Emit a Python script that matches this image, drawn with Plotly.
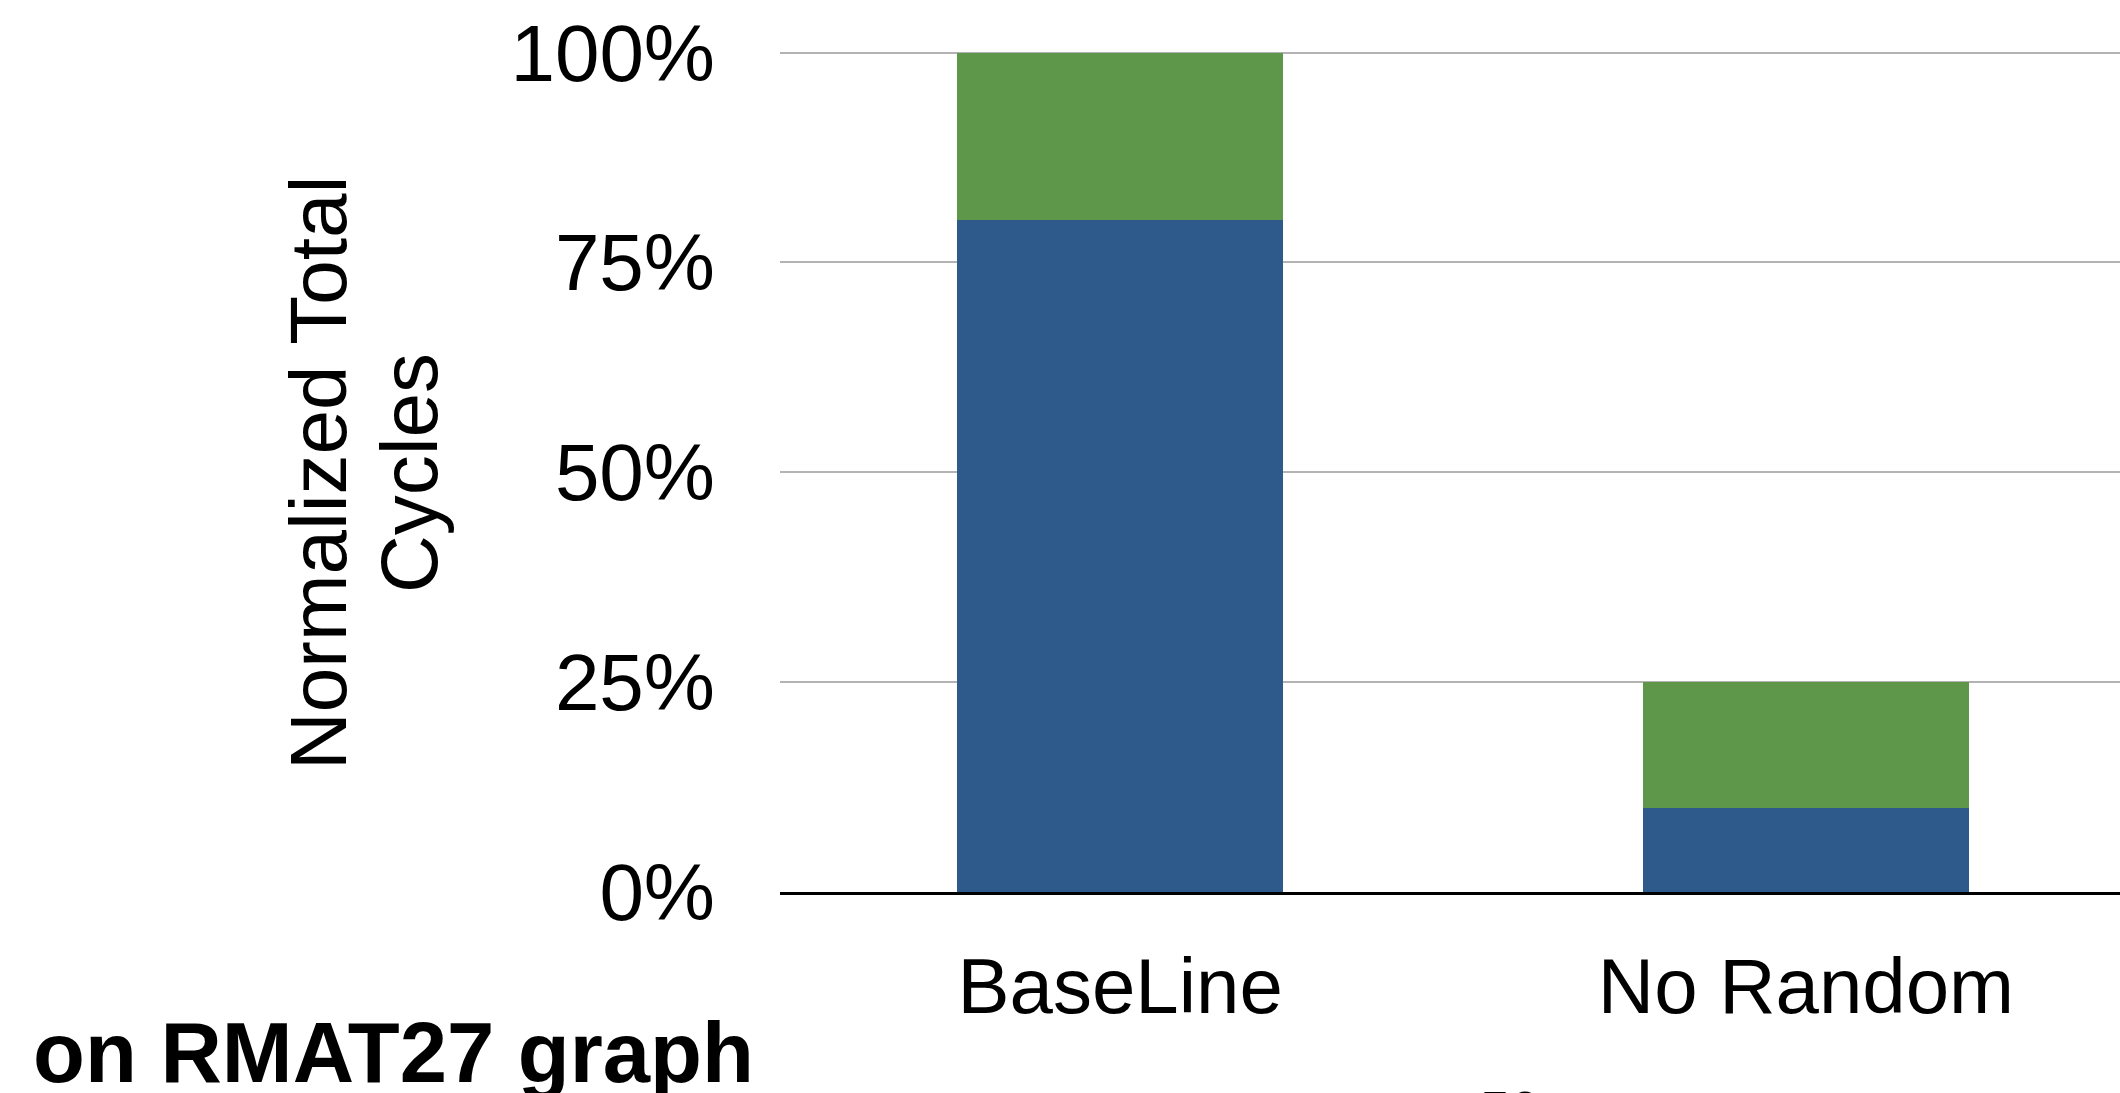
import plotly.graph_objects as go

# Data: normalized total cycles split into two components
categories = ["BaseLine", "No Random"]
blue_part = [0.80, 0.10]
green_part = [0.20, 0.15]
y_ticks = [0, 0.25, 0.5, 0.75, 1.0]
y_tick_labels = ["0%", "25%", "50%", "75%", "100%"]

BLUE = "#2E5A8B"
GREEN = "#5E964A"
FONT = "Liberation Sans, Arial, Helvetica, sans-serif"

W, H = 2120, 1093
M_L, M_R, M_T, M_B = 780, 0, 19, 201
PW, PH = W - M_L - M_R, H - M_T - M_B


def px_x(x):
    return (x - M_L) / PW


def px_y(y):
    return (H - M_B - y) / PH


fig = go.Figure()
fig.add_trace(go.Bar(x=categories, y=blue_part, marker_color=BLUE,
                     marker_line_width=0, width=0.475, showlegend=False))
fig.add_trace(go.Bar(x=categories, y=green_part, marker_color=GREEN,
                     marker_line_width=0, width=0.475, showlegend=False))

fig.update_layout(
    width=W, height=H,
    margin=dict(l=M_L, r=M_R, t=M_T, b=M_B, pad=0),
    barmode="stack",
    plot_bgcolor="white",
    paper_bgcolor="white",
    font=dict(family=FONT, color="black"),
    xaxis=dict(
        range=[-0.496, 1.458],
        showline=True, linecolor="black", linewidth=3,
        showgrid=False, zeroline=False, ticks="",
        tickfont=dict(size=78, family=FONT, color="black"),
        ticklabelstandoff=24,
    ),
    yaxis=dict(
        range=[0, 1.04],
        tickvals=y_ticks, ticktext=y_tick_labels,
        showgrid=True, gridcolor="#B3B3B3", gridwidth=2,
        zeroline=False, showline=False, ticks="",
        tickfont=dict(size=80, family=FONT, color="black"),
        ticklabelstandoff=64,
    ),
)

# Two-line rotated y-axis title
fig.add_annotation(text="Normalized Total", textangle=-90, showarrow=False,
                   xref="paper", yref="paper", x=px_x(319), y=px_y(473),
                   xanchor="center", yanchor="middle",
                   font=dict(size=80, family=FONT, color="black"))
fig.add_annotation(text="Cycles", textangle=-90, showarrow=False,
                   xref="paper", yref="paper", x=px_x(410), y=px_y(473),
                   xanchor="center", yanchor="middle",
                   font=dict(size=80, family=FONT, color="black"))

# Caption text below the chart
fig.add_annotation(text="<b>on RMAT27 graph</b>", showarrow=False,
                   xref="paper", yref="paper", x=px_x(31), y=px_y(1052),
                   xanchor="left", yanchor="middle",
                   font=dict(size=85, family=FONT, color="black"))
fig.add_annotation(text="50", showarrow=False,
                   xref="paper", yref="paper", x=px_x(1510), y=px_y(1110),
                   xanchor="center", yanchor="middle",
                   font=dict(size=54, family=FONT, color="black"))

fig.write_html("out.html")
